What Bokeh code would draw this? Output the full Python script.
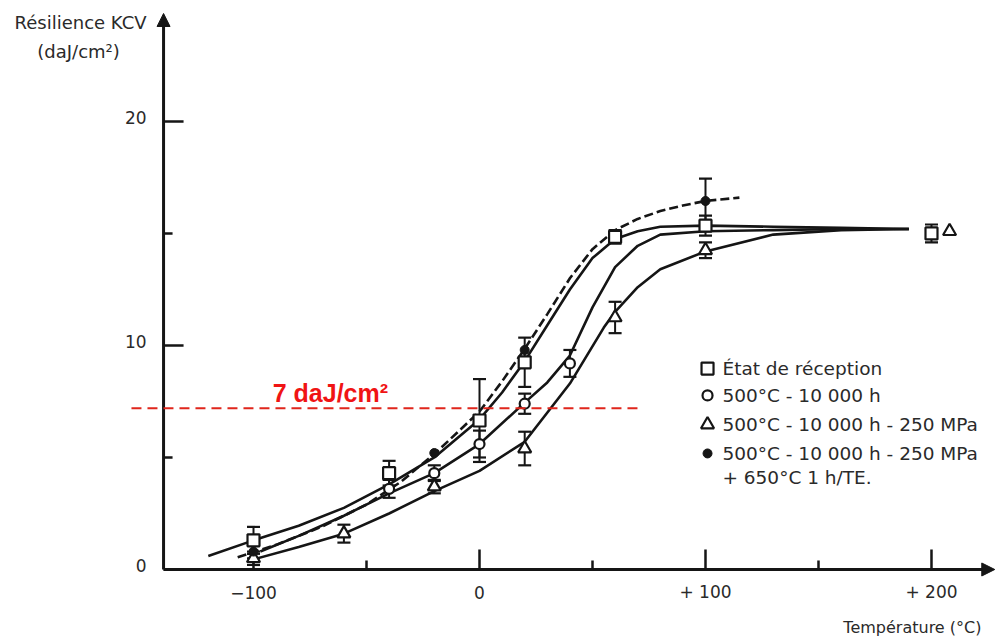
from bokeh.plotting import figure
from bokeh.models import (Range1d, Whisker, TeeHead, ColumnDataSource, Label, Arrow, NormalHead)
from bokeh.core.properties import value
from bokeh.embed import file_html
from bokeh.resources import INLINE

# ---------------- data ----------------
# Etat de reception (open squares)
T_sq = [-100, -40, 0, 20, 60, 100, 200]
K_sq = [1.3, 4.3, 6.65, 9.25, 14.85, 15.35, 15.0]
E_sq = [0.6, 0.55, 1.85, 1.1, 0.3, 0.45, 0.4]
# 500 C - 10 000 h (open circles)
T_ci = [-40, -20, 0, 20, 40]
K_ci = [3.6, 4.3, 5.6, 7.4, 9.2]
E_ci = [0.4, 0.35, 0.6, 0.45, 0.6]
# 500 C - 10 000 h - 250 MPa (open triangles)
T_tr = [-100, -60, -20, 20, 60, 100, 208]
K_tr = [0.5, 1.6, 3.7, 5.4, 11.25, 14.25, 15.1]
E_tr = [0.3, 0.4, 0.3, 0.75, 0.7, 0.35, 0.0]
# 500 C - 10 000 h - 250 MPa + 650 C 1 h/TE (filled dots)
T_dot = [-100, -20, 20, 100]
K_dot = [0.8, 5.2, 9.8, 16.45]
E_dot = [0.3, 0.0, 0.0, 1.0]

# hand-drawn curves
cur_sq_T = [-120, -100, -80, -60, -40, -20, 0, 10, 20, 30, 40, 50, 60, 70, 80, 100, 130, 160, 190]
cur_sq_K = [0.6, 1.3, 1.95, 2.75, 3.8, 5.0, 6.7, 7.9, 9.3, 10.9, 12.5, 13.9, 14.75, 15.1, 15.3, 15.35, 15.3, 15.25, 15.2]
cur_dot_T = [-107, -90, -70, -50, -35, -20, 0, 10, 20, 30, 40, 50, 60, 70, 80, 90, 100, 115]
cur_dot_K = [0.55, 1.1, 1.9, 2.9, 3.9, 5.15, 7.05, 8.4, 9.85, 11.4, 13.0, 14.3, 15.15, 15.65, 16.0, 16.25, 16.45, 16.6]
cur_ci_T = [-97, -80, -60, -40, -20, 0, 20, 30, 40, 50, 60, 70, 80, 100, 130, 160, 190]
cur_ci_K = [0.8, 1.5, 2.4, 3.4, 4.3, 5.6, 7.45, 8.35, 9.55, 11.7, 13.5, 14.45, 14.95, 15.1, 15.15, 15.2, 15.2]
cur_tr_T = [-100, -80, -60, -40, -20, 0, 20, 40, 55, 60, 70, 80, 100, 130, 160, 190]
cur_tr_K = [0.45, 1.0, 1.6, 2.5, 3.5, 4.4, 5.7, 8.3, 10.8, 11.5, 12.6, 13.4, 14.2, 14.95, 15.15, 15.2]

threshold = 7.2
threshold_label = "7 daJ/cm²"
thr_x = [-154, 71]

x_ticks = [-100, 0, 100, 200]
x_tick_labels = ["−100", "0", "+ 100", "+ 200"]
x_minor = [-50, 50, 150]
y_ticks = [0, 10, 20]
y_tick_labels = ["0", "10", "20"]
y_minor = [5, 15]

y_title = ["Résilience KCV", "(daJ/cm²)"]
x_title = "Température (°C)"
legend_labels = ["État de réception", "500°C - 10 000 h", "500°C - 10 000 h - 250 MPa",
                 "500°C - 10 000 h - 250 MPa", "+ 650°C 1 h/TE."]

FONT = "DejaVu Sans"
INK = "#151515"
TXT = "#2a2a2a"

W, H = 998, 637
PX = 2.26     # pixels per degree
PY = 22.4     # pixels per daJ/cm2
X_LO, X_HI = -211.95, 229.65
Y_LO, Y_HI = -3.036, 25.40

p = figure(width=W, height=H, output_backend="svg", toolbar_location=None,
           x_range=Range1d(X_LO, X_HI), y_range=Range1d(Y_LO, Y_HI),
           x_axis_location=None, y_axis_location=None,
           min_border_left=0, min_border_right=0, min_border_top=0, min_border_bottom=0)
p.outline_line_color = None
p.xgrid.visible = False
p.ygrid.visible = False
p.background_fill_color = "white"

# ---- hand-built axes (through the figure's scales) ----
XA = -139.8          # position of the vertical axis
Y_TOP = 24.82        # top of vertical axis (arrow tip)
X_END = 228.0        # right end of horizontal axis (arrow tip)
p.segment(x0=[XA, XA], y0=[0, 0], x1=[X_END - 4, XA], y1=[0, Y_TOP - 0.4], line_width=3, line_color=INK)
p.add_layout(Arrow(x_start=X_END - 6, y_start=0, x_end=X_END, y_end=0, line_width=3, line_color=INK,
                   end=NormalHead(size=13, fill_color=INK, line_color=INK)))
p.add_layout(Arrow(x_start=XA, y_start=Y_TOP - 0.5, x_end=XA, y_end=Y_TOP, line_width=3, line_color=INK,
                   end=NormalHead(size=13, fill_color=INK, line_color=INK)))
# ticks
p.segment(x0=x_ticks, y0=[0] * len(x_ticks), x1=x_ticks, y1=[20 / PY] * len(x_ticks),
          line_width=2.5, line_color=INK)
p.segment(x0=x_minor, y0=[0] * len(x_minor), x1=x_minor, y1=[9 / PY] * len(x_minor),
          line_width=2.5, line_color=INK)
p.segment(x0=[XA] * len(y_ticks), y0=y_ticks, x1=[XA + 20 / PX] * len(y_ticks), y1=y_ticks,
          line_width=2.5, line_color=INK)
p.segment(x0=[XA] * len(y_minor), y0=y_minor, x1=[XA + 9 / PX] * len(y_minor), y1=y_minor,
          line_width=2.5, line_color=INK)
# tick labels
p.text(x=x_ticks, y=[-23 / PY] * len(x_ticks), text=x_tick_labels, text_font=value(FONT),
       text_font_size="17px", text_color=TXT, text_align="center", text_baseline="middle")
p.text(x=[XA - 17 / PX] * len(y_ticks), y=[v + 4 / PY for v in y_ticks], text=y_tick_labels,
       text_font=value(FONT), text_font_size="17px", text_color=TXT, text_align="right",
       text_baseline="middle")
# axis titles
p.add_layout(Label(x=XA - 83 / PX, y=Y_TOP - 9 / PY, text=y_title[0], text_font=FONT,
                   text_font_size="18px", text_color=TXT, text_align="center", text_baseline="middle"))
p.add_layout(Label(x=XA - 85 / PX, y=Y_TOP - 38 / PY, text=y_title[1], text_font=FONT,
                   text_font_size="18px", text_color=TXT, text_align="center", text_baseline="middle"))
p.add_layout(Label(x=161.0, y=-58 / PY, text=x_title, text_font=FONT, text_font_size="16px",
                   text_color=TXT, text_align="left", text_baseline="middle"))

# ---- curves ----
p.line(cur_sq_T, cur_sq_K, line_width=2.6, line_color=INK)
p.line(cur_ci_T, cur_ci_K, line_width=2.6, line_color=INK)
p.line(cur_tr_T, cur_tr_K, line_width=2.6, line_color=INK)
p.line(cur_dot_T, cur_dot_K, line_width=2.6, line_color=INK, line_dash="9 4")

# ---- error bars ----
def whisk(T, K, E):
    xs = [t for t, e in zip(T, E) if e > 0]
    up = [k + e for k, e in zip(K, E) if e > 0]
    lo = [k - e for k, e in zip(K, E) if e > 0]
    src = ColumnDataSource(dict(x=xs, up=up, lo=lo))
    w = Whisker(source=src, base="x", upper="up", lower="lo", line_width=2, line_color=INK,
                upper_head=TeeHead(size=13, line_width=2.2, line_color=INK),
                lower_head=TeeHead(size=13, line_width=2.2, line_color=INK))
    w.level = "underlay"
    p.add_layout(w)

for T, K, E in ((T_sq, K_sq, E_sq), (T_ci, K_ci, E_ci), (T_tr, K_tr, E_tr), (T_dot, K_dot, E_dot)):
    whisk(T, K, E)

# ---- markers ----
p.scatter(T_sq, K_sq, marker="square", size=12, fill_color="white", line_color=INK, line_width=2.2)
p.scatter(T_ci, K_ci, marker="circle", size=10, fill_color="white", line_color=INK, line_width=2.2)
p.scatter(T_tr, K_tr, marker="triangle", size=13, fill_color="white", line_color=INK, line_width=2.2)
p.scatter(T_dot, K_dot, marker="circle", size=9, fill_color=INK, line_color=INK, line_width=1)

# ---- threshold (red dashed) ----
p.line(thr_x, [threshold, threshold], line_color="#e0261c", line_width=2, line_dash="10 6")
p.add_layout(Label(x=-91.5, y=7.9, text=threshold_label, text_font="Liberation Sans",
                   text_font_style="bold", text_font_size="25px", text_color="#f01414",
                   text_baseline="alphabetic"))

# ---- legend (drawn manually) ----
lx_mark, lx_text = 100.9, 107.5
rows = [8.97, 7.77, 6.47, 5.18, 4.11]
p.scatter([lx_mark], [rows[0]], marker="square", size=12, fill_color="white", line_color=INK, line_width=2.2)
p.scatter([lx_mark], [rows[1]], marker="circle", size=10, fill_color="white", line_color=INK, line_width=2.2)
p.scatter([lx_mark], [rows[2]], marker="triangle", size=13, fill_color="white", line_color=INK, line_width=2.2)
p.scatter([lx_mark], [rows[3]], marker="circle", size=9, fill_color=INK, line_color=INK)
for r, t in zip(rows, legend_labels):
    p.add_layout(Label(x=lx_text, y=r, text=t, text_font=FONT, text_font_size="18.5px",
                       text_color=TXT, text_baseline="middle"))

open("out.html", "w").write(file_html(p, INLINE))
